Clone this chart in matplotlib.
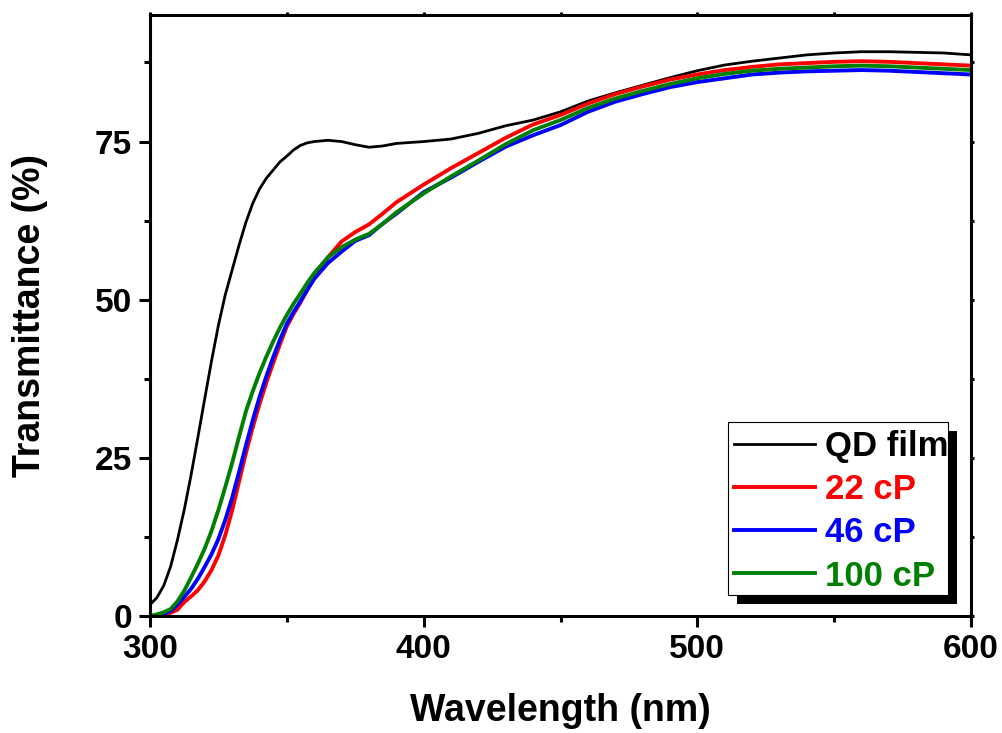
import numpy as np
import matplotlib
matplotlib.use('Agg')
import matplotlib.pyplot as plt
from matplotlib.patches import Rectangle
from matplotlib.ticker import MultipleLocator

plt.rcParams.update({
    'font.family': ['Liberation Sans', 'DejaVu Sans'],
    'font.weight': 'bold',
    'axes.linewidth': 2.2,
})

# transmittance spectra (%), sampled on a common wavelength grid (nm);
# denser in the absorption edge below 360 nm
wavelength = [300, 302.5, 305, 307.5, 310, 312.5, 315, 317.5, 320, 322.5, 325, 327.5,
              330, 332.5, 335, 337.5, 340, 342.5, 345, 347.5, 350, 352.5, 355, 357.5,
              360, 365, 370, 375, 380, 385, 390, 400, 410, 420, 430, 440, 450, 460,
              470, 480, 490, 500, 510, 520, 530, 540, 550, 560, 570, 580, 590, 600]

qd_film = [1.8, 2.9, 4.8, 7.8, 12.0, 16.8, 22.3, 28.3, 34.4, 40.4, 46.0, 50.8,
           54.7, 58.6, 62.2, 65.2, 67.5, 69.2, 70.5, 71.8, 72.7, 73.7, 74.4, 74.8,
           75.0, 75.2, 75.0, 74.5, 74.1, 74.3, 74.7, 75.0, 75.4, 76.3, 77.5, 78.4, 79.7, 81.4,
           82.7, 83.9, 85.1, 86.2, 87.1, 87.7, 88.2, 88.7, 89.0, 89.2, 89.2, 89.1, 89.0, 88.7]

cp22 = [0.0, 0.05, 0.2, 0.5, 1.0, 2.2, 3.1, 4.1, 5.5, 7.3, 9.6, 12.8,
        16.7, 21.2, 25.7, 29.8, 33.5, 36.9, 40.0, 43.0, 45.8, 47.8, 49.6, 51.6,
        53.4, 56.7, 59.2, 60.7, 61.9, 63.6, 65.4, 68.2, 70.8, 73.2, 75.6, 77.7, 79.2, 81.0,
        82.5, 83.7, 84.8, 85.6, 86.3, 86.8, 87.2, 87.4, 87.6, 87.7, 87.6, 87.4, 87.2, 87.0]

cp46 = [0.0, 0.1, 0.3, 0.8, 1.8, 3.0, 4.3, 5.9, 7.8, 9.8, 12.2, 15.2,
        18.7, 22.7, 26.9, 30.9, 34.6, 37.9, 40.9, 43.7, 46.2, 48.1, 49.8, 51.6,
        53.3, 55.8, 57.6, 59.3, 60.2, 62.0, 63.6, 67.0, 69.3, 71.8, 74.2, 76.0, 77.6, 79.7,
        81.3, 82.5, 83.6, 84.4, 85.0, 85.6, 85.9, 86.1, 86.2, 86.3, 86.2, 86.0, 85.8, 85.6]

cp100 = [0.0, 0.25, 0.6, 1.1, 2.3, 4.0, 6.1, 8.3, 10.7, 13.5, 16.8, 20.4,
         24.2, 28.3, 32.3, 35.5, 38.4, 41.0, 43.4, 45.6, 47.6, 49.4, 51.0, 52.7,
         54.2, 56.7, 58.3, 59.5, 60.4, 62.0, 63.8, 66.8, 69.5, 72.0, 74.6, 76.8, 78.4, 80.3,
         81.8, 83.0, 84.1, 85.0, 85.7, 86.2, 86.5, 86.7, 86.9, 87.0, 86.9, 86.7, 86.5, 86.3]

labels = ['QD film', '22 cP', '46 cP', '100 cP']
colors = ['#000000', '#FF0000', '#0000FF', '#008000']
widths = [2.0, 2.8, 2.8, 2.8]

fig = plt.figure(figsize=(10.03, 7.33), dpi=100)
ax = fig.add_axes([0.1496, 0.1596, 0.8185, 0.8199])

for series, label, color, lw in zip([qd_film, cp22, cp46, cp100], labels, colors, widths):
    ax.plot(wavelength, series, color=color, lw=lw, label=label)

ax.set_xlim(300, 600)
ax.set_ylim(0, 95)
ax.xaxis.set_major_locator(MultipleLocator(100))
ax.xaxis.set_minor_locator(MultipleLocator(50))
ax.yaxis.set_major_locator(MultipleLocator(25))
ax.yaxis.set_minor_locator(MultipleLocator(12.5))

ax.tick_params(which='major', direction='out', length=8, width=2.2, pad=5)
ax.tick_params(which='minor', direction='out', length=4.5, width=2.2)
ax.tick_params(which='both', top=True, right=True, labeltop=False, labelright=False)
for t in ax.xaxis.get_major_ticks() + ax.xaxis.get_minor_ticks():
    t.tick2line.set_markersize(2)
for t in ax.yaxis.get_major_ticks() + ax.yaxis.get_minor_ticks():
    t.tick2line.set_markersize(2)

for lab in ax.get_xticklabels() + ax.get_yticklabels():
    lab.set_fontsize(24)
    lab.set_fontweight('bold')

ax.set_xlabel('Wavelength (nm)', fontsize=27, fontweight='bold')
ax.set_ylabel('Transmittance (%)', fontsize=27, fontweight='bold')
ax.xaxis.set_label_coords(0.5, -0.128)
ax.yaxis.set_label_coords(-0.124, 0.5)

leg = ax.legend(loc='upper left', bbox_to_anchor=(0.711, 0.309), frameon=False,
                borderpad=0, borderaxespad=0, handlelength=2.33, handletextpad=0.3,
                labelspacing=0.29, prop={'weight': 'bold', 'size': 25},
                labelcolor='linecolor')
leg.set_zorder(6)

# boxed legend with a solid drop shadow
ax.add_patch(Rectangle((0.715, 0.020), 0.268, 0.288, transform=ax.transAxes,
                       facecolor='black', edgecolor='none', zorder=4, clip_on=False))
ax.add_patch(Rectangle((0.704, 0.035), 0.268, 0.288, transform=ax.transAxes,
                       facecolor='white', edgecolor='black', lw=0.8, zorder=5, clip_on=False))

fig.savefig('out.png', dpi=100, facecolor='white')
